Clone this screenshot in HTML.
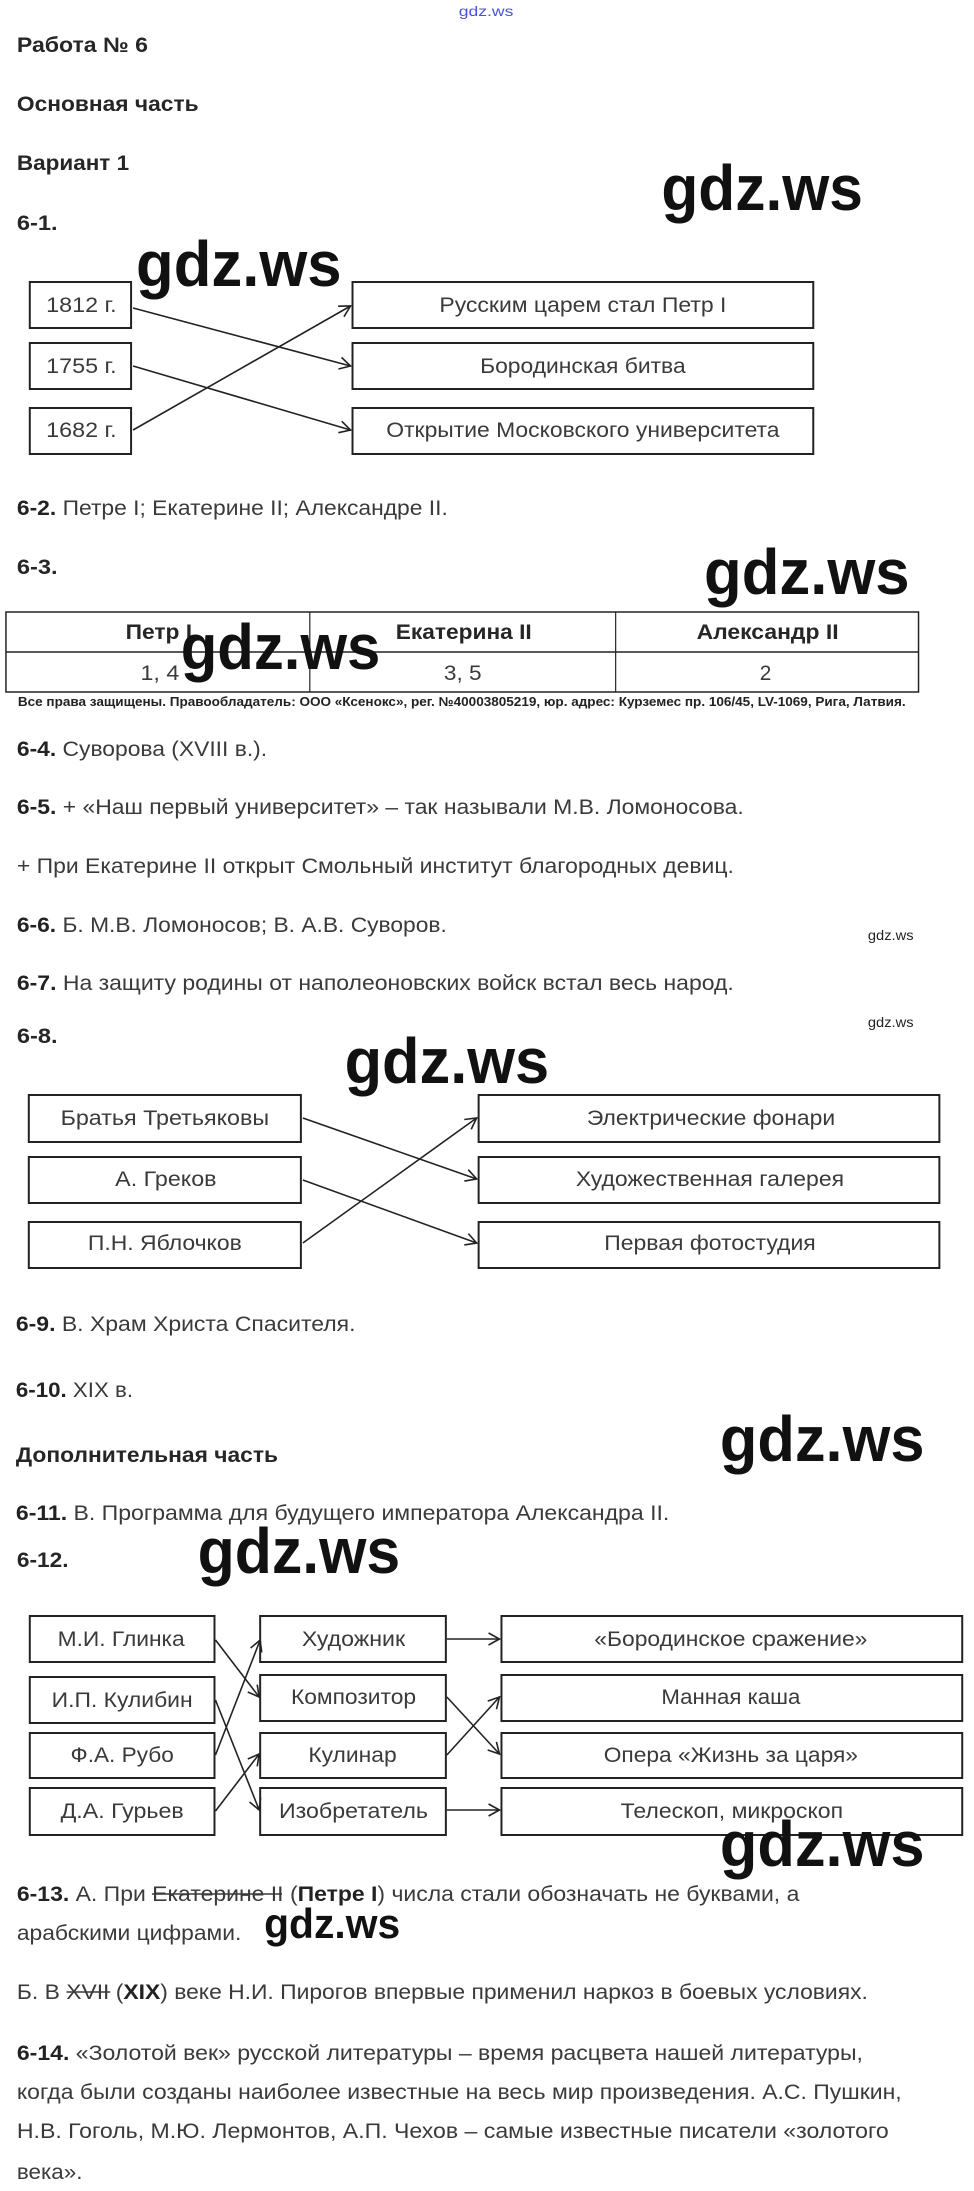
<!DOCTYPE html>
<html><head><meta charset="utf-8"><style>
html,body{margin:0;padding:0;background:#fff}
svg{display:block}
text{font-family:"Liberation Sans",sans-serif}
.t{font-size:21px;fill:#3a3a3a}
.b{font-weight:bold;fill:#222}
.h{font-size:21px;font-weight:bold;fill:#262626}
.bx{fill:none;stroke:#222;stroke-width:2}
.ar{stroke:#222;stroke-width:1.6;fill:none;marker-end:url(#m)}
.wm{font-size:64px;font-weight:bold;fill:#111}
.c{text-anchor:middle}
</style></head><body>
<svg width="974" height="2191" viewBox="0 0 974 2191" xmlns="http://www.w3.org/2000/svg">
<defs><marker id="m" markerWidth="14" markerHeight="14" refX="12" refY="7" orient="auto" markerUnits="userSpaceOnUse"><polyline points="1,1 12,7 1,13" fill="none" stroke="#222" stroke-width="1.6"/></marker></defs>
<g transform="scale(0.993,1)">
<text x="462" y="16" font-size="14" fill="#4a55d0" textLength="55" lengthAdjust="spacingAndGlyphs">gdz.ws</text>

<text class="h" x="17" y="52" textLength="132" lengthAdjust="spacingAndGlyphs">Работа № 6</text>
<text class="h" x="17" y="111" textLength="183" lengthAdjust="spacingAndGlyphs">Основная часть</text>
<text class="h" x="17" y="170" textLength="113" lengthAdjust="spacingAndGlyphs">Вариант 1</text>
<text class="h" x="17" y="230" textLength="41" lengthAdjust="spacingAndGlyphs">6-1.</text>

<rect class="bx" x="30" y="282" width="102" height="46"/>
<rect class="bx" x="30" y="343" width="102" height="46"/>
<rect class="bx" x="30" y="408" width="102" height="46"/>
<rect class="bx" x="355" y="282" width="464" height="46"/>
<rect class="bx" x="355" y="343" width="464" height="46"/>
<rect class="bx" x="355" y="408" width="464" height="46"/>
<text class="t c" x="82" y="312" textLength="71" lengthAdjust="spacingAndGlyphs">1812 г.</text>
<text class="t c" x="82" y="373" textLength="71" lengthAdjust="spacingAndGlyphs">1755 г.</text>
<text class="t c" x="82" y="437" textLength="71" lengthAdjust="spacingAndGlyphs">1682 г.</text>
<text class="t c" x="587" y="312" textLength="289" lengthAdjust="spacingAndGlyphs">Русским царем стал Петр I</text>
<text class="t c" x="587" y="373" textLength="207" lengthAdjust="spacingAndGlyphs">Бородинская битва</text>
<text class="t c" x="587" y="437" textLength="396" lengthAdjust="spacingAndGlyphs">Открытие Московского университета</text>
<line class="ar" x1="134" y1="308" x2="353" y2="366"/>
<line class="ar" x1="134" y1="366" x2="353" y2="430"/>
<line class="ar" x1="134" y1="430" x2="353" y2="306"/>

<text class="t" x="17" y="515" textLength="434" lengthAdjust="spacingAndGlyphs"><tspan class="b">6-2.</tspan> Петре I; Екатерине II; Александре II.</text>
<text class="h" x="17" y="574" textLength="41" lengthAdjust="spacingAndGlyphs">6-3.</text>

<rect x="6" y="612" width="919" height="80" fill="none" stroke="#222" stroke-width="1.5"/>
<line x1="6" y1="652" x2="925" y2="652" stroke="#222" stroke-width="1.5"/>
<line x1="312" y1="612" x2="312" y2="692" stroke="#222" stroke-width="1.2"/>
<line x1="620" y1="612" x2="620" y2="692" stroke="#222" stroke-width="1.2"/>
<text class="h c" x="160" y="639" textLength="67" lengthAdjust="spacingAndGlyphs">Петр I</text>
<text class="h c" x="467" y="639" textLength="137" lengthAdjust="spacingAndGlyphs">Екатерина II</text>
<text class="h c" x="773" y="639" textLength="143" lengthAdjust="spacingAndGlyphs">Александр II</text>
<text class="t c" x="161" y="680" textLength="39" lengthAdjust="spacingAndGlyphs">1, 4</text>
<text class="t c" x="466" y="680" textLength="38" lengthAdjust="spacingAndGlyphs">3, 5</text>
<text class="t c" x="771" y="680">2</text>
<text x="18" y="706" font-size="13" font-weight="bold" fill="#222" textLength="894" lengthAdjust="spacingAndGlyphs">Все права защищены. Правообладатель: ООО «Ксенокс», рег. №40003805219, юр. адрес: Курземес пр. 106/45, LV-1069, Рига, Латвия.</text>

<text class="t" x="17" y="756" textLength="252" lengthAdjust="spacingAndGlyphs"><tspan class="b">6-4.</tspan> Суворова (XVIII в.).</text>
<text class="t" x="17" y="814" textLength="732" lengthAdjust="spacingAndGlyphs"><tspan class="b">6-5.</tspan> + «Наш первый университет» – так называли М.В. Ломоносова.</text>
<text class="t" x="17" y="873" textLength="722" lengthAdjust="spacingAndGlyphs">+ При Екатерине II открыт Смольный институт благородных девиц.</text>
<text class="t" x="17" y="932" textLength="433" lengthAdjust="spacingAndGlyphs"><tspan class="b">6-6.</tspan> Б. М.В. Ломоносов; В. А.В. Суворов.</text>
<text x="874" y="940" font-size="14" fill="#222" textLength="46" lengthAdjust="spacingAndGlyphs">gdz.ws</text>
<text class="t" x="17" y="990" textLength="722" lengthAdjust="spacingAndGlyphs"><tspan class="b">6-7.</tspan> На защиту родины от наполеоновских войск встал весь народ.</text>
<text x="874" y="1027" font-size="14" fill="#222" textLength="46" lengthAdjust="spacingAndGlyphs">gdz.ws</text>
<text class="h" x="17" y="1043" textLength="41" lengthAdjust="spacingAndGlyphs">6-8.</text>

<rect class="bx" x="29" y="1095" width="274" height="47"/>
<rect class="bx" x="29" y="1157" width="274" height="46"/>
<rect class="bx" x="29" y="1222" width="274" height="46"/>
<rect class="bx" x="482" y="1095" width="464" height="47"/>
<rect class="bx" x="482" y="1157" width="464" height="46"/>
<rect class="bx" x="482" y="1222" width="464" height="46"/>
<text class="t c" x="166" y="1125" textLength="210" lengthAdjust="spacingAndGlyphs">Братья Третьяковы</text>
<text class="t c" x="167" y="1186" textLength="102" lengthAdjust="spacingAndGlyphs">А. Греков</text>
<text class="t c" x="166" y="1250" textLength="155" lengthAdjust="spacingAndGlyphs">П.Н. Яблочков</text>
<text class="t c" x="716" y="1125" textLength="250" lengthAdjust="spacingAndGlyphs">Электрические фонари</text>
<text class="t c" x="715" y="1186" textLength="270" lengthAdjust="spacingAndGlyphs">Художественная галерея</text>
<text class="t c" x="715" y="1250" textLength="213" lengthAdjust="spacingAndGlyphs">Первая фотостудия</text>
<line class="ar" x1="305" y1="1118" x2="480" y2="1179"/>
<line class="ar" x1="305" y1="1180" x2="480" y2="1243"/>
<line class="ar" x1="305" y1="1243" x2="480" y2="1118"/>

<text class="t" x="16" y="1331" textLength="342" lengthAdjust="spacingAndGlyphs"><tspan class="b">6-9.</tspan> В. Храм Христа Спасителя.</text>
<text class="t" x="16" y="1397" textLength="118" lengthAdjust="spacingAndGlyphs"><tspan class="b">6-10.</tspan> XIX в.</text>
<text class="h" x="16" y="1462" textLength="264" lengthAdjust="spacingAndGlyphs">Дополнительная часть</text>
<text class="t" x="16" y="1520" textLength="658" lengthAdjust="spacingAndGlyphs"><tspan class="b">6-11.</tspan> В. Программа для будущего императора Александра II.</text>
<text class="h" x="17" y="1567" textLength="52" lengthAdjust="spacingAndGlyphs">6-12.</text>

<rect class="bx" x="30" y="1616" width="186" height="46"/>
<rect class="bx" x="30" y="1677" width="186" height="46"/>
<rect class="bx" x="30" y="1733" width="186" height="45"/>
<rect class="bx" x="30" y="1788" width="186" height="47"/>
<rect class="bx" x="262" y="1616" width="187" height="46"/>
<rect class="bx" x="262" y="1675" width="187" height="46"/>
<rect class="bx" x="262" y="1733" width="187" height="45"/>
<rect class="bx" x="262" y="1788" width="187" height="47"/>
<rect class="bx" x="505" y="1616" width="464" height="46"/>
<rect class="bx" x="505" y="1675" width="464" height="46"/>
<rect class="bx" x="505" y="1733" width="464" height="45"/>
<rect class="bx" x="505" y="1788" width="464" height="47"/>
<text class="t c" x="122" y="1646" textLength="128" lengthAdjust="spacingAndGlyphs">М.И. Глинка</text>
<text class="t c" x="123" y="1707" textLength="142" lengthAdjust="spacingAndGlyphs">И.П. Кулибин</text>
<text class="t c" x="123" y="1762" textLength="104" lengthAdjust="spacingAndGlyphs">Ф.А. Рубо</text>
<text class="t c" x="123" y="1818" textLength="124" lengthAdjust="spacingAndGlyphs">Д.А. Гурьев</text>
<text class="t c" x="356" y="1646" textLength="104" lengthAdjust="spacingAndGlyphs">Художник</text>
<text class="t c" x="356" y="1704" textLength="126" lengthAdjust="spacingAndGlyphs">Композитор</text>
<text class="t c" x="355" y="1762" textLength="89" lengthAdjust="spacingAndGlyphs">Кулинар</text>
<text class="t c" x="356" y="1818" textLength="150" lengthAdjust="spacingAndGlyphs">Изобретатель</text>
<text class="t c" x="736" y="1646" textLength="275" lengthAdjust="spacingAndGlyphs">«Бородинское сражение»</text>
<text class="t c" x="736" y="1704" textLength="140" lengthAdjust="spacingAndGlyphs">Манная каша</text>
<text class="t c" x="736" y="1762" textLength="256" lengthAdjust="spacingAndGlyphs">Опера «Жизнь за царя»</text>
<text class="t c" x="737" y="1818" textLength="224" lengthAdjust="spacingAndGlyphs">Телескоп, микроскоп</text>
<line class="ar" x1="217" y1="1640" x2="261" y2="1697"/>
<line class="ar" x1="217" y1="1700" x2="261" y2="1810"/>
<line class="ar" x1="217" y1="1755" x2="262" y2="1640"/>
<line class="ar" x1="217" y1="1811" x2="261" y2="1754"/>
<line class="ar" x1="450" y1="1639" x2="503" y2="1639"/>
<line class="ar" x1="450" y1="1697" x2="503" y2="1754"/>
<line class="ar" x1="450" y1="1755" x2="503" y2="1697"/>
<line class="ar" x1="450" y1="1810" x2="503" y2="1810"/>

<text class="t" x="17" y="1901" textLength="788" lengthAdjust="spacingAndGlyphs"><tspan class="b">6-13.</tspan> А. При Екатерине II (<tspan class="b">Петре I</tspan>) числа стали обозначать не буквами, а</text>
<line x1="153" y1="1894" x2="284" y2="1894" stroke="#3a3a3a" stroke-width="1.5"/>
<text class="t" x="17" y="1940" textLength="226" lengthAdjust="spacingAndGlyphs">арабскими цифрами.</text>
<text class="t" x="17" y="1999" textLength="857" lengthAdjust="spacingAndGlyphs">Б. В XVII (<tspan class="b">XIX</tspan>) веке Н.И. Пирогов впервые применил наркоз в боевых условиях.</text>
<line x1="67" y1="1992" x2="111" y2="1992" stroke="#3a3a3a" stroke-width="1.5"/>
<text class="t" x="17" y="2060" textLength="852" lengthAdjust="spacingAndGlyphs"><tspan class="b">6-14.</tspan> «Золотой век» русской литературы – время расцвета нашей литературы,</text>
<text class="t" x="17" y="2099" textLength="891" lengthAdjust="spacingAndGlyphs">когда были созданы наиболее известные на весь мир произведения. А.С. Пушкин,</text>
<text class="t" x="17" y="2138" textLength="878" lengthAdjust="spacingAndGlyphs">Н.В. Гоголь, М.Ю. Лермонтов, А.П. Чехов – самые известные писатели «золотого</text>
<text class="t" x="17" y="2179" textLength="66" lengthAdjust="spacingAndGlyphs">века».</text>

<text class="wm" x="666" y="210" textLength="203" lengthAdjust="spacingAndGlyphs">gdz.ws</text>
<text class="wm" x="137" y="286" textLength="207" lengthAdjust="spacingAndGlyphs">gdz.ws</text>
<text class="wm" x="709" y="594" textLength="207" lengthAdjust="spacingAndGlyphs">gdz.ws</text>
<text class="wm" x="182" y="669" textLength="201" lengthAdjust="spacingAndGlyphs">gdz.ws</text>
<text class="wm" x="347" y="1083" textLength="206" lengthAdjust="spacingAndGlyphs">gdz.ws</text>
<text class="wm" x="725" y="1461" textLength="206" lengthAdjust="spacingAndGlyphs">gdz.ws</text>
<text class="wm" x="199" y="1573" textLength="204" lengthAdjust="spacingAndGlyphs">gdz.ws</text>
<text class="wm" x="725" y="1866" textLength="206" lengthAdjust="spacingAndGlyphs">gdz.ws</text>
<text x="266" y="1938" font-size="42" font-weight="bold" fill="#111" textLength="137" lengthAdjust="spacingAndGlyphs">gdz.ws</text>
</g>
</svg>
</body></html>
